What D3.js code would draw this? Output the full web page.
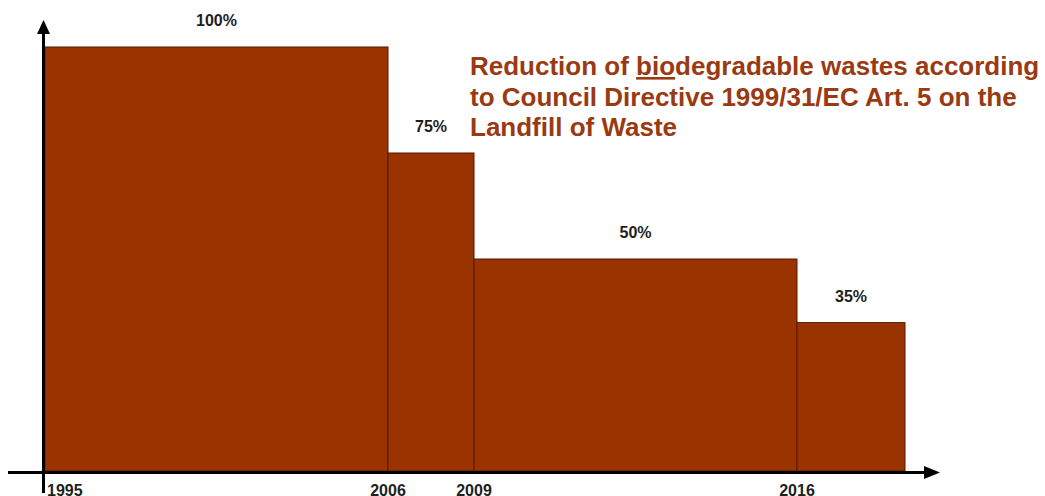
<!DOCTYPE html>
<html>
<head>
<meta charset="utf-8">
<script src="https://cdn.jsdelivr.net/npm/d3@7"></script>
<style>
  body { margin: 0; background: #fff; }
  svg { display: block; font-family: Arial, "Liberation Sans", sans-serif; }
</style>
</head>
<body>
<div id="graph"></div>
<script>
'use strict';

let WIDTH = 1045;
let HEIGHT = 496;

// period boundaries (years) and the share of 1995 landfilled waste allowed
let YEARS = [1995, 2006, 2009, 2016, 2020];
let VALUES = [100, 75, 50, 35];
let VALUE_LABELS = ['100%', '75%', '50%', '35%'];
let TICK_YEARS = [1995, 2006, 2009, 2016];
let TITLE_LINES = [
    ['Reduction of ', 'bio', 'degradable wastes according'],
    ['to Council Directive 1999/31/EC Art. 5 on the'],
    ['Landfill of Waste'],
];

let BAR_COLOR = '#993300';
let EDGE_COLOR = '#5a1800';
let TITLE_COLOR = '#9a3a12';

let svg = d3.select('#graph')
    .append('svg')
    .attr('width', WIDTH)
    .attr('height', HEIGHT);

// the time axis is not drawn to scale in the original, so each period gets its own stretch
let xScale = d3.scaleLinear()
    .domain(YEARS)
    .range([45, 388, 474, 797, 905]);

let yScale = d3.scaleLinear()
    .domain([0, 100])
    .range([471, 47]);

let periods = VALUES.map((v, i) => ({
    start: YEARS[i],
    end: YEARS[i + 1],
    value: v,
    label: VALUE_LABELS[i],
}));

svg.selectAll('.bar')
    .data(periods)
    .enter()
    .append('rect')
    .attr('class', 'bar')
    .attr('x', d => xScale(d.start))
    .attr('y', d => yScale(d.value))
    .attr('width', d => xScale(d.end) - xScale(d.start))
    .attr('height', d => yScale(0) - yScale(d.value))
    .attr('fill', BAR_COLOR)
    .attr('stroke', EDGE_COLOR)
    .attr('stroke-width', 1);

svg.selectAll('.val')
    .data(periods)
    .enter()
    .append('text')
    .attr('class', 'val')
    .attr('x', d => (xScale(d.start) + xScale(d.end)) / 2)
    .attr('y', d => yScale(d.value) - 21)
    .attr('text-anchor', 'middle')
    .style('font-size', '16px')
    .style('font-weight', 'bold')
    .style('fill', '#1e1e1e')
    .text(d => d.label);

// axes with arrow heads
let axisG = svg.append('g');

axisG.append('line')
    .attr('x1', 8).attr('x2', 928)
    .attr('y1', 472.5).attr('y2', 472.5)
    .attr('stroke', '#000')
    .attr('stroke-width', 3);

axisG.append('line')
    .attr('x1', 43.5).attr('x2', 43.5)
    .attr('y1', 32).attr('y2', 493)
    .attr('stroke', '#000')
    .attr('stroke-width', 3);

axisG.append('path')
    .attr('d', 'M940,472.5 L924,466 L924,479 Z')
    .attr('fill', '#000');

axisG.append('path')
    .attr('d', 'M43.5,20 L37,34 L50,34 Z')
    .attr('fill', '#000');

svg.selectAll('.year')
    .data(TICK_YEARS)
    .enter()
    .append('text')
    .attr('class', 'year')
    .attr('x', (d, i) => i == 0 ? xScale(d) + 2 : xScale(d))
    .attr('y', 496)
    .attr('text-anchor', (d, i) => i == 0 ? 'start' : 'middle')
    .style('font-size', '16px')
    .style('font-weight', 'bold')
    .style('fill', '#1e1e1e')
    .text(d => d);

// title block
let title = svg.append('text')
    .attr('x', 470)
    .attr('y', 75)
    .style('font-size', '26px')
    .style('font-weight', 'bold')
    .style('fill', TITLE_COLOR);

TITLE_LINES.forEach((parts, i) => {
    parts.forEach((p, j) => {
        let t = title.append('tspan').text(p);
        if (j == 0) t.attr('x', 470).attr('dy', i == 0 ? 0 : 30.5);
        if (p == 'bio') t.style('text-decoration', 'underline');
    });
});
</script>
</body>
</html>
